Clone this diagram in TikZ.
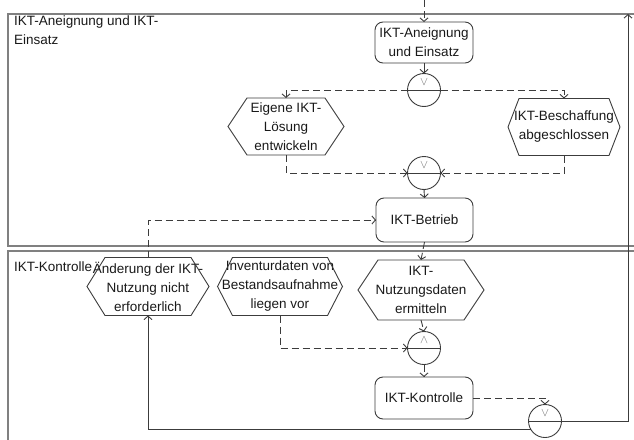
\documentclass[tikz,border=0pt]{standalone}
\usepackage{fontspec}
\setmainfont{Liberation Sans}
\usetikzlibrary{arrows.meta}

% outline of an event node: a flat hexagon fitted to the node's box
\newcommand\hexframe[2]{%
  \draw[shapeline] (#1.west) -- ([xshift=#2pt]#1.north west)
    -- ([xshift=-#2pt]#1.north east) -- (#1.east)
    -- ([xshift=-#2pt]#1.south east) -- ([xshift=#2pt]#1.south west) -- cycle;}

\definecolor{lanegray}{RGB}{128,128,128}
\definecolor{inkgray}{RGB}{60,60,60}
\definecolor{textink}{RGB}{25,25,25}

\tikzset{
  shapeline/.style={draw=inkgray, line width=0.9pt},
  lane/.style={draw=lanegray, line width=1.1pt},
  func/.style={shapeline, rounded corners=8pt, align=center, inner sep=0pt, outer sep=0pt, text=textink},
  evt/.style={draw=none, align=center, inner sep=0pt, outer sep=0pt, minimum height=57pt, text=textink},
  gate/.style={shapeline, circle, minimum size=33pt, inner sep=0pt, outer sep=0pt,
    path picture={\draw[inkgray, line width=0.8pt] (path picture bounding box.west) -- (path picture bounding box.east);
      \node[text=lanegray!90!black, font=\fontsize{12.5}{12.5}\selectfont] at ([yshift=8pt]path picture bounding box.center) {$#1$};}},
  tip/.style={-{Straight Barb[length=3.5pt,width=8pt]}},
  dflow/.style={draw=inkgray, line width=0.9pt, dash pattern=on 7pt off 4pt, tip},
  sflow/.style={draw=inkgray, line width=0.9pt, tip},
  lanelabel/.style={anchor=north west, align=left, inner sep=0pt, text=textink},
}

\begin{document}
\begin{tikzpicture}[x=1pt, y=-1pt, font=\fontsize{13.5}{19}\selectfont]
\useasboundingbox (0,0) rectangle (634,439);
\clip (0,0) rectangle (634,439);

% swimlanes
\draw[lane] (8,14) rectangle (700,246);
\draw[lane] (8,251) rectangle (700,480);
\node[lanelabel] (l1) at (14,16) {IKT-Aneignung und IKT-\\Einsatz};
\node[lanelabel] (l2) at (14,262) {IKT-Kontrolle};

% functions
\node[func, minimum width=98pt, minimum height=41pt] (a1) at (424,42.5) {IKT-Aneignung\\und Einsatz};
\node[func, minimum width=97pt, minimum height=44pt] (a2) at (424.5,220) {IKT-Betrieb};
\node[func, minimum width=98pt, minimum height=42pt] (a3) at (424,398) {IKT-Kontrolle};

% events
\node[evt, minimum width=116pt] (h1) at (286,126.5) {Eigene IKT-\\Lösung\\entwickeln};
\hexframe{h1}{19}
\node[evt, minimum width=112pt] (h2) at (564,127) {IKT-Beschaffung\\abgeschlossen};
\hexframe{h2}{11}
\node[evt, minimum width=122pt, minimum height=58pt] (h3) at (148,286.5) {Änderung der IKT-\\Nutzung nicht\\erforderlich};
\hexframe{h3}{18}
\node[evt, minimum width=125pt, minimum height=58pt] (h4) at (280,286.5) {Inventurdaten von\\Bestandsaufnahme\\liegen vor};
\hexframe{h4}{15}
\node[evt, minimum width=126pt, minimum height=60pt] (h5) at (421,290) {IKT-\\Nutzungsdaten\\ermitteln};
\hexframe{h5}{20}

% connectors (logical operators)
\node[gate=\vee] (x1) at (424,90) {};
\node[gate=\vee] (x2) at (424,173) {};
\node[gate=\wedge] (x3) at (424,348) {};
\node[gate=\vee] (x4) at (545,421) {};

% control flow
\coordinate (start) at (424,0);
\coordinate (back) at (628,14);
\draw[dflow] (start) -- (a1.north);
\draw[sflow] (a1.south) -- (x1.north);
\draw[dflow] (x1.west) -| (h1.north);
\draw[dflow] (x1.east) -| (h2.north);
\draw[dflow] (h1.south) |- (x2.west);
\draw[dflow] (h2.south) |- (x2.east);
\draw[sflow] (x2.south) -- (a2.north);
\draw[dflow] (h3.north) |- (a2.west);
\draw[dflow] (a2.south) -- (h5.north);
\draw[dflow] (h5.south) -- (x3.north);
\draw[dflow] (h4.south) |- (x3.west);
\draw[dflow] (x3.south) -- (a3.north);
\draw[dflow] (a3.east) -| (x4.north);
\draw[sflow] (x4.east) -| (back);
\draw[sflow] (x4.209) -| (h3.south);
\end{tikzpicture}
\end{document}
